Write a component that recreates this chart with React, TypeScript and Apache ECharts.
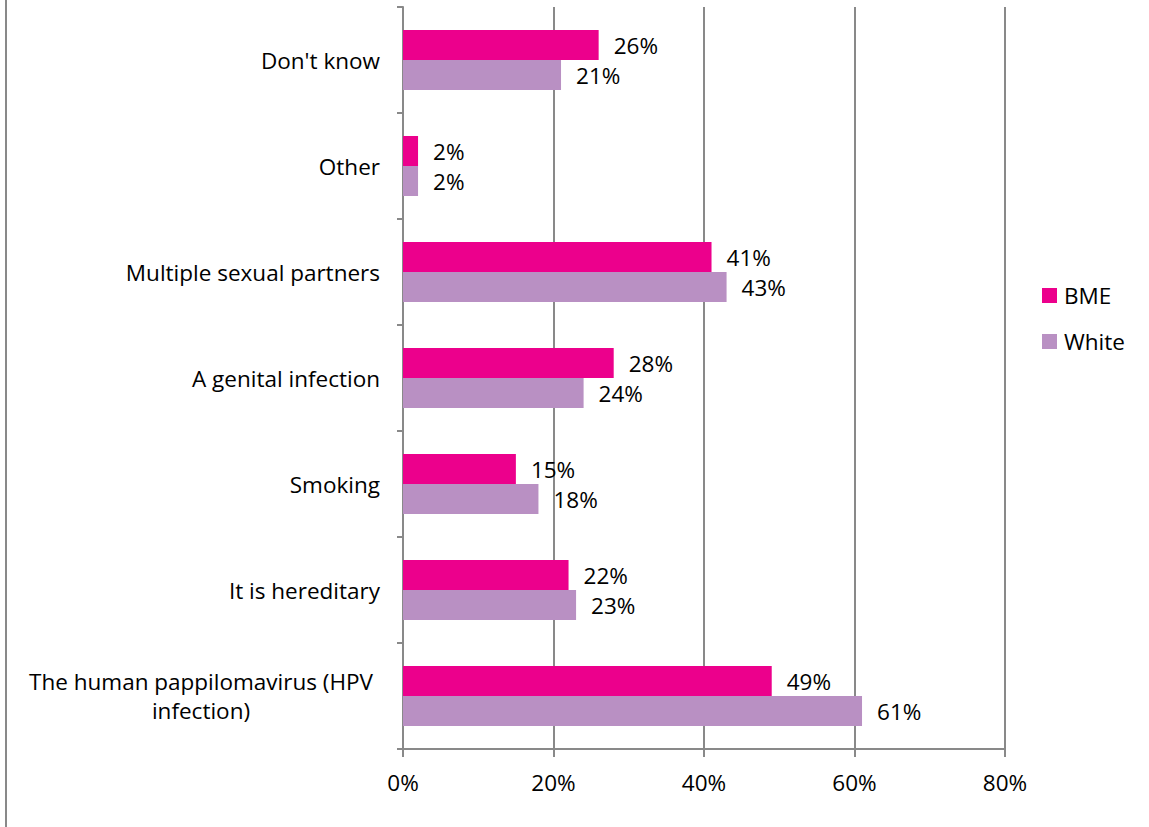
import React, { useEffect, useRef } from "react";
import * as echarts from "echarts";

const categories = [
  "The human pappilomavirus (HPV\ninfection)",
  "It is hereditary",
  "Smoking",
  "A genital infection",
  "Multiple sexual partners",
  "Other",
  "Don't know",
];
const bmeValues = [49, 22, 15, 28, 41, 2, 26];
const whiteValues = [61, 23, 18, 24, 43, 2, 21];
const xTicks = [0, 20, 40, 60, 80];

const FONT = "'Open Sans', sans-serif";
const FS = 22.5;
const GRAY = "#898989";

export default function App() {
  const ref = useRef<HTMLDivElement>(null);
  useEffect(() => {
    document.body.style.margin = "0";
    const chart = echarts.init(ref.current!, null, { renderer: "svg" });
    const labelCommon = {
      show: true,
      position: "right",
      distance: 15,
      formatter: (p: any) => p.value + "%",
      color: "#000",
      fontSize: FS,
      fontFamily: FONT,
    };
    chart.setOption({
      animation: false,
      backgroundColor: "#fff",
      textStyle: { fontFamily: FONT },
      grid: { left: 403, right: 144, top: 7, bottom: 78, containLabel: false },
      legend: {
        orient: "vertical",
        left: 1042,
        top: 284,
        padding: 0,
        itemWidth: 15,
        itemHeight: 15,
        itemGap: 23,
        icon: "rect",
        data: ["BME", "White"],
        textStyle: { fontSize: FS, fontFamily: FONT, color: "#000", padding: [0, 0, 0, 2] },
      },
      xAxis: {
        type: "value",
        min: xTicks[0],
        max: xTicks[xTicks.length - 1],
        interval: 20,
        axisLine: { show: true, lineStyle: { color: GRAY, width: 2 } },
        axisTick: { show: true, length: 8, lineStyle: { color: GRAY, width: 2 } },
        splitLine: { show: true, lineStyle: { color: GRAY, width: 2 } },
        axisLabel: {
          formatter: (v: number) => v + "%",
          fontSize: FS,
          color: "#000",
          fontFamily: FONT,
          margin: 22,
        },
      },
      yAxis: {
        type: "category",
        data: categories,
        axisLine: { show: true, lineStyle: { color: GRAY, width: 2 } },
        axisTick: { show: true, length: 6, lineStyle: { color: GRAY, width: 2 } },
        axisLabel: {
          fontSize: FS,
          color: "#000",
          fontFamily: FONT,
          margin: 23,
          formatter: (v: string) => {
            if (v.indexOf("\n") >= 0) {
              return v
                .split("\n")
                .map((s) => "{c|" + s + "}")
                .join("\n");
            }
            return v;
          },
          rich: {
            c: { width: 358, align: "center", fontSize: FS, fontFamily: FONT, color: "#000", lineHeight: 29 },
          },
        },
      },
      graphic: [
        {
          type: "line",
          shape: { x1: 6, y1: 0, x2: 6, y2: 827 },
          style: { stroke: GRAY, lineWidth: 2 },
        },
      ],
      series: [
        {
          name: "BME",
          type: "bar",
          data: bmeValues,
          barWidth: 30,
          barGap: "0%",
          barCategoryGap: "43%",
          itemStyle: { color: "#EC008C" },
          label: labelCommon,
        },
        {
          name: "White",
          type: "bar",
          data: whiteValues,
          barWidth: 30,
          barGap: "0%",
          barCategoryGap: "43%",
          itemStyle: { color: "#B990C3" },
          label: labelCommon,
        },
      ],
    });
    return () => chart.dispose();
  }, []);
  return <div ref={ref} style={{ width: 1149, height: 827 }} />;
}
